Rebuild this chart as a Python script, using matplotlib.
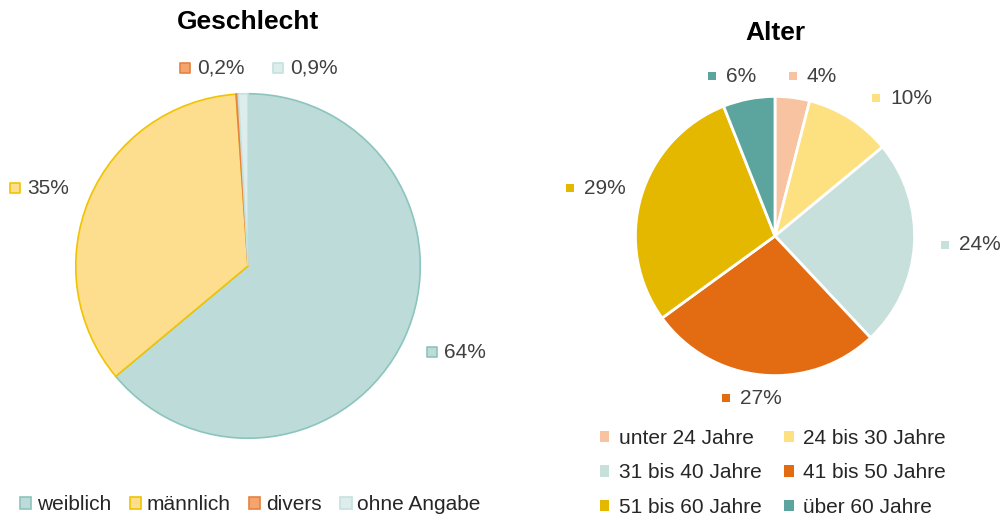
#!/usr/bin/env python3

import matplotlib
matplotlib.use('Agg')
import matplotlib.pyplot as plt
from matplotlib.patches import Patch

plt.rcParams['font.family'] = ['Liberation Sans', 'DejaVu Sans']

W, H = 1002, 520

# Geschlecht
GENDER_LABELS = ['weiblich', 'männlich', 'divers', 'ohne Angabe']
GENDER_VALUES = [64, 35, 0.2, 0.9]
GENDER_TEXT = ['64%', '35%', '0,2%', '0,9%']
GENDER_COLORS = ['#bddbd8', '#fddd8e', '#f4a46e', '#dcedeb']
GENDER_EDGES = ['#8cc4be', '#f0c400', '#e8823f', '#c5e1de']

# Alter
AGE_LABELS = ['unter 24 Jahre', '24 bis 30 Jahre', '31 bis 40 Jahre',
              '41 bis 50 Jahre', '51 bis 60 Jahre', 'über 60 Jahre']
AGE_VALUES = [4, 10, 24, 27, 29, 6]
AGE_TEXT = ['4%', '10%', '24%', '27%', '29%', '6%']
AGE_COLORS = ['#f8c3a0', '#fde180', '#c8e0dc', '#e36c12', '#e5b800', '#5ba59e']

# label positions (pixels, square position), layout only
GENDER_LABEL_POS = [(432, 352), (15, 188), (185, 68), (278, 68)]
AGE_LABEL_POS = [(793, 76), (876, 98), (945, 245), (726, 398), (570, 188), (712, 76)]

TEXT_COLOR = '#404040'


def pie_axes(fig, cx, cy, r):
    ax = fig.add_axes([(cx - r) / W, 1 - (cy + r) / H, 2 * r / W, 2 * r / H])
    return ax


def fix_limits(ax):
    ax.set_xlim(-1, 1)
    ax.set_ylim(-1, 1)
    ax.axis('off')


def main():
    fig = plt.figure(figsize=(W / 100, H / 100), dpi=100)

    # left pie
    ax1 = pie_axes(fig, 248, 266, 174)
    wedges, _ = ax1.pie(GENDER_VALUES, colors=GENDER_COLORS, startangle=90,
                        counterclock=False, radius=0.99,
                        wedgeprops=dict(linewidth=1.2))
    for w, ec in zip(wedges, GENDER_EDGES):
        w.set_edgecolor(ec)
    fix_limits(ax1)

    # right pie
    ax2 = pie_axes(fig, 775, 236, 141)
    ax2.pie(AGE_VALUES, colors=AGE_COLORS, startangle=90, counterclock=False,
            radius=0.99, wedgeprops=dict(linewidth=2, edgecolor='white'))
    fix_limits(ax2)

    # overlay for labels
    ov = fig.add_axes([0, 0, 1, 1], zorder=5)
    ov.set_xlim(0, W)
    ov.set_ylim(H, 0)
    ov.axis('off')
    ov.patch.set_alpha(0)

    for (x, y), txt, c, ec in zip(GENDER_LABEL_POS, GENDER_TEXT, GENDER_COLORS, GENDER_EDGES):
        ov.scatter([x], [y], marker='s', s=55, color=c, edgecolors=ec, linewidths=1.2)
        ov.text(x + 12, y, txt, fontsize=15, color=TEXT_COLOR, va='center', ha='left')

    for (x, y), txt, c in zip(AGE_LABEL_POS, AGE_TEXT, AGE_COLORS):
        ov.scatter([x], [y], marker='s', s=40, color=c, linewidths=0)
        ov.text(x + 14, y, txt, fontsize=15, color=TEXT_COLOR, va='center', ha='left')

    ov.text(248, 22, 'Geschlecht', fontsize=19, fontweight='bold', ha='center',
            va='center', color='black')
    ov.text(775, 33, 'Alter', fontsize=19, fontweight='bold', ha='center',
            va='center', color='black')

    # legends
    h1 = [Patch(facecolor=c, edgecolor=ec, linewidth=1.2)
          for c, ec in zip(GENDER_COLORS, GENDER_EDGES)]
    fig.legend(h1, GENDER_LABELS, loc='center', bbox_to_anchor=(250 / W, 1 - 505 / H),
               ncol=4, frameon=False, fontsize=15, handlelength=0.55, handleheight=0.55,
               handletextpad=0.25, columnspacing=0.9, labelcolor='#262626')

    # row-major order for a 2-column legend
    order = [0, 2, 4, 1, 3, 5]
    h2 = [Patch(facecolor=AGE_COLORS[i], edgecolor='none') for i in order]
    fig.legend(h2, [AGE_LABELS[i] for i in order], loc='center',
               bbox_to_anchor=(773 / W, 1 - 473 / H),
               ncol=2, frameon=False, fontsize=15, handlelength=0.45, handleheight=0.45,
               handletextpad=0.45, columnspacing=1.1, labelspacing=0.75,
               labelcolor='#262626')

    fig.savefig('out.png', dpi=100)


if __name__ == '__main__':
    main()
